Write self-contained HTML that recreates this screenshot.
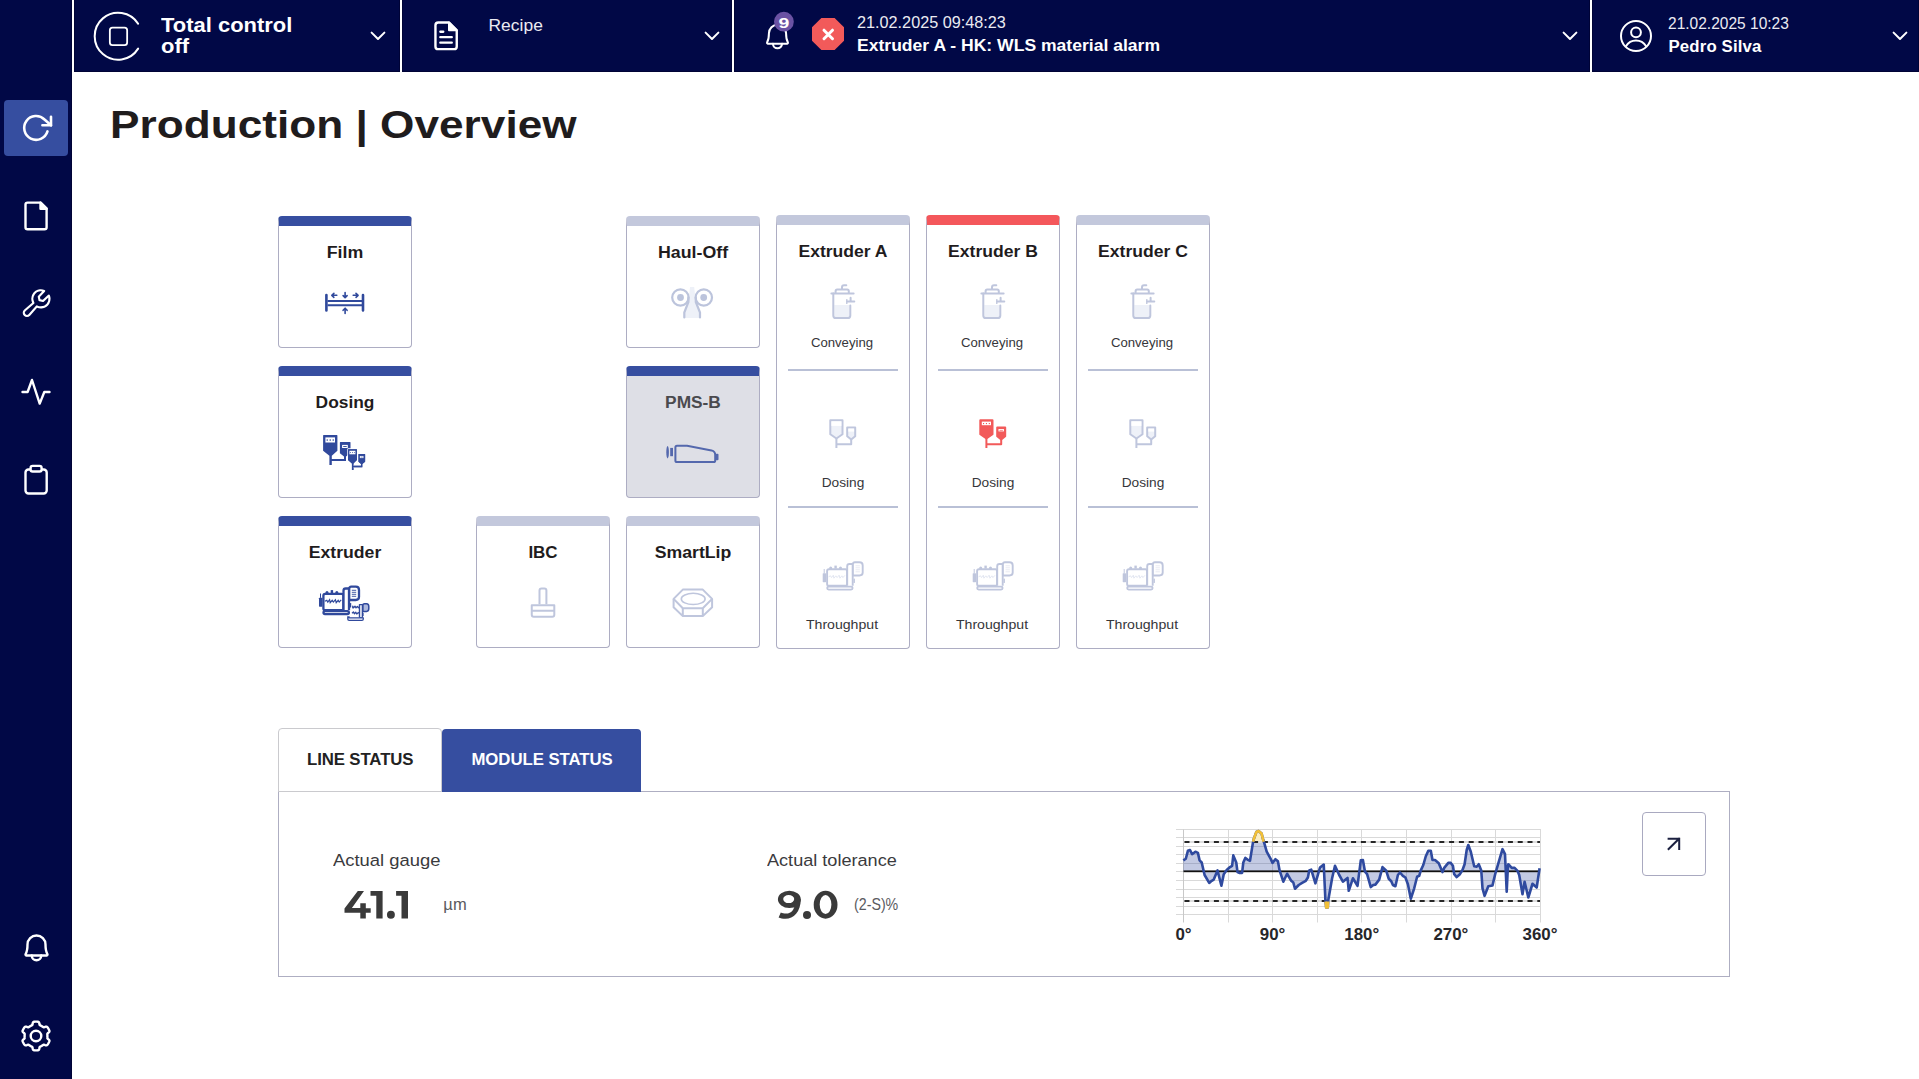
<!DOCTYPE html>
<html><head><meta charset="utf-8"><title>Production | Overview</title>
<style>
html,body{margin:0;padding:0;}
body{width:1919px;height:1079px;position:relative;overflow:hidden;background:#fff;font-family:"Liberation Sans", sans-serif;}
.t{position:absolute;white-space:nowrap;}
</style></head><body>
<div style="position:absolute;left:0px;top:0px;width:72px;height:1079px;background:#010846;box-shadow:inset -1px 0 0 #000336;"></div>
<div style="position:absolute;left:74px;top:0px;width:326px;height:72px;background:#010846;box-shadow:inset 1px -1px 0 #000336, inset -1px 0 0 #000336;"></div>
<div style="position:absolute;left:402px;top:0px;width:330px;height:72px;background:#010846;box-shadow:inset 1px -1px 0 #000336, inset -1px 0 0 #000336;"></div>
<div style="position:absolute;left:734px;top:0px;width:856px;height:72px;background:#010846;box-shadow:inset 1px -1px 0 #000336, inset -1px 0 0 #000336;"></div>
<div style="position:absolute;left:1592px;top:0px;width:327px;height:72px;background:#010846;box-shadow:inset 1px -1px 0 #000336, inset -1px 0 0 #000336;"></div>
<div style="position:absolute;left:4px;top:100px;width:64px;height:56px;background:#364ea0;border-radius:4px;"></div>
<svg style="position:absolute;left:0;top:0" width="72" height="1079" fill="none" stroke="#fff" stroke-width="2.4" stroke-linecap="round" stroke-linejoin="round"><path d="M47.48,131.38 A11.9,11.9 0 1 1 44.51,119.49 L51,125.3" stroke-width="2.6"/><polyline points="42.4,125.3 51,125.3 51,116.8" stroke-width="2.6"/><path d="M28.2,202.6 H40.5 L46.6,208.7 V227.2 Q46.6,229.3 44.5,229.3 H27.6 Q25.5,229.3 25.5,227.2 V204.7 Q25.5,202.6 27.6,202.6 Z"/><path d="M40.5,202.6 V208.7 H46.6 Z" fill="#fff"/><path fill="#fff" stroke="none" transform="translate(19.5,286) scale(0.1339)" d="M226.76,69a8,8,0,0,0-12.84-2.88l-40.3,37.19-17.23-3.7-3.7-17.23,37.19-40.3A8,8,0,0,0,187,29.24,72,72,0,0,0,88,96,72.34,72.34,0,0,0,94,124.94L33.79,177c-.15.12-.29.26-.43.39a32,32,0,0,0,45.26,45.26c.13-.13.27-.28.39-.42L131.06,162A72,72,0,0,0,232,96,71.56,71.56,0,0,0,226.76,69ZM160,152a56.14,56.14,0,0,1-27.070-7,8,8,0,0,0-9.92,1.77L67.11,211.51a16,16,0,0,1-22.62-22.620L109.18,133a8,8,0,0,0,1.77-9.93,56,56,0,0,1,58.360-82.31l-31.2,33.81a8,8,0,0,0-1.94,7.1L141.83,108a8,8,0,0,0,6.14,6.14l26.35,5.66a8,8,0,0,0,7.1-1.94l33.81-31.2A56.06,56.06,0,0,1,160,152Z"/><polyline points="22.5,392 27.6,392 32,380 39.7,403.6 44.3,392 49.5,392"/><rect x="25.5" y="469.5" width="21.2" height="24" rx="3"/><rect x="30.6" y="465.9" width="11" height="5.6" rx="2" fill="#010846"/><path d="M31.75,955.50 A4.75,4.75 0 0 0 41.25,955.50"/><path d="M27.50,944.50 A9.00,9.00 0 0 1 45.50,944.50 C45.50,948.98 46.54,952.58 47.36,954.00 Q47.88,955.00 46.50,955.50 L26.50,955.50 Q25.12,955.00 25.64,954.00 C26.46,952.58 27.50,948.98 27.50,944.50 Z"/><path d="M47.40,1036.00 L47.40,1036.20 L47.39,1036.40 L47.39,1036.60 L47.38,1036.80 L47.36,1036.99 L47.35,1037.19 L47.34,1037.39 L47.32,1037.59 L47.32,1037.79 L47.34,1038.00 L47.39,1038.21 L47.50,1038.45 L47.72,1038.70 L48.05,1039.00 L48.46,1039.34 L48.87,1039.69 L49.17,1040.03 L49.35,1040.34 L49.42,1040.62 L49.43,1040.89 L49.38,1041.14 L49.32,1041.38 L49.24,1041.62 L49.14,1041.85 L49.04,1042.08 L48.94,1042.31 L48.83,1042.54 L48.71,1042.76 L48.59,1042.98 L48.47,1043.20 L48.34,1043.42 L48.21,1043.63 L48.08,1043.84 L47.94,1044.05 L47.79,1044.26 L47.64,1044.46 L47.48,1044.65 L47.32,1044.84 L47.14,1045.02 L46.94,1045.18 L46.71,1045.31 L46.43,1045.39 L46.07,1045.40 L45.63,1045.30 L45.12,1045.12 L44.62,1044.93 L44.20,1044.79 L43.87,1044.74 L43.61,1044.76 L43.40,1044.82 L43.21,1044.91 L43.04,1045.01 L42.87,1045.12 L42.71,1045.23 L42.54,1045.34 L42.38,1045.45 L42.21,1045.56 L42.04,1045.67 L41.87,1045.77 L41.70,1045.87 L41.53,1045.97 L41.35,1046.07 L41.18,1046.16 L41.00,1046.25 L40.82,1046.34 L40.64,1046.43 L40.46,1046.51 L40.28,1046.60 L40.11,1046.70 L39.94,1046.82 L39.78,1046.97 L39.63,1047.19 L39.52,1047.50 L39.42,1047.93 L39.34,1048.46 L39.24,1048.99 L39.10,1049.42 L38.92,1049.73 L38.71,1049.94 L38.48,1050.07 L38.24,1050.16 L38.00,1050.22 L37.75,1050.27 L37.50,1050.31 L37.25,1050.34 L37.00,1050.36 L36.75,1050.38 L36.50,1050.39 L36.25,1050.40 L36.00,1050.40 L35.75,1050.40 L35.50,1050.39 L35.25,1050.38 L35.00,1050.36 L34.75,1050.34 L34.50,1050.31 L34.25,1050.27 L34.00,1050.22 L33.76,1050.16 L33.52,1050.07 L33.29,1049.94 L33.08,1049.73 L32.90,1049.42 L32.76,1048.99 L32.66,1048.46 L32.58,1047.93 L32.48,1047.50 L32.37,1047.19 L32.22,1046.97 L32.06,1046.82 L31.89,1046.70 L31.72,1046.60 L31.54,1046.51 L31.36,1046.43 L31.18,1046.34 L31.00,1046.25 L30.82,1046.16 L30.65,1046.07 L30.47,1045.97 L30.30,1045.87 L30.13,1045.77 L29.96,1045.67 L29.79,1045.56 L29.62,1045.45 L29.46,1045.34 L29.29,1045.23 L29.13,1045.12 L28.96,1045.01 L28.79,1044.91 L28.60,1044.82 L28.39,1044.76 L28.13,1044.74 L27.80,1044.79 L27.38,1044.93 L26.88,1045.12 L26.37,1045.30 L25.93,1045.40 L25.57,1045.39 L25.29,1045.31 L25.06,1045.18 L24.86,1045.02 L24.68,1044.84 L24.52,1044.65 L24.36,1044.46 L24.21,1044.26 L24.06,1044.05 L23.92,1043.84 L23.79,1043.63 L23.66,1043.42 L23.53,1043.20 L23.41,1042.98 L23.29,1042.76 L23.17,1042.54 L23.06,1042.31 L22.96,1042.08 L22.86,1041.85 L22.76,1041.62 L22.68,1041.38 L22.62,1041.14 L22.57,1040.89 L22.58,1040.62 L22.65,1040.34 L22.83,1040.03 L23.13,1039.69 L23.54,1039.34 L23.95,1039.00 L24.28,1038.70 L24.50,1038.45 L24.61,1038.21 L24.66,1038.00 L24.68,1037.79 L24.68,1037.59 L24.66,1037.39 L24.65,1037.19 L24.64,1036.99 L24.62,1036.80 L24.61,1036.60 L24.61,1036.40 L24.60,1036.20 L24.60,1036.00 L24.60,1035.80 L24.61,1035.60 L24.61,1035.40 L24.62,1035.20 L24.64,1035.01 L24.65,1034.81 L24.66,1034.61 L24.68,1034.41 L24.68,1034.21 L24.66,1034.00 L24.61,1033.79 L24.50,1033.55 L24.28,1033.30 L23.95,1033.00 L23.54,1032.66 L23.13,1032.31 L22.83,1031.97 L22.65,1031.66 L22.58,1031.38 L22.57,1031.11 L22.62,1030.86 L22.68,1030.62 L22.76,1030.38 L22.86,1030.15 L22.96,1029.92 L23.06,1029.69 L23.17,1029.46 L23.29,1029.24 L23.41,1029.02 L23.53,1028.80 L23.66,1028.58 L23.79,1028.37 L23.92,1028.16 L24.06,1027.95 L24.21,1027.74 L24.36,1027.54 L24.52,1027.35 L24.68,1027.16 L24.86,1026.98 L25.06,1026.82 L25.29,1026.69 L25.57,1026.61 L25.93,1026.60 L26.37,1026.70 L26.88,1026.88 L27.38,1027.07 L27.80,1027.21 L28.13,1027.26 L28.39,1027.24 L28.60,1027.18 L28.79,1027.09 L28.96,1026.99 L29.13,1026.88 L29.29,1026.77 L29.46,1026.66 L29.62,1026.55 L29.79,1026.44 L29.96,1026.33 L30.13,1026.23 L30.30,1026.13 L30.47,1026.03 L30.65,1025.93 L30.82,1025.84 L31.00,1025.75 L31.18,1025.66 L31.36,1025.57 L31.54,1025.49 L31.72,1025.40 L31.89,1025.30 L32.06,1025.18 L32.22,1025.03 L32.37,1024.81 L32.48,1024.50 L32.58,1024.07 L32.66,1023.54 L32.76,1023.01 L32.90,1022.58 L33.08,1022.27 L33.29,1022.06 L33.52,1021.93 L33.76,1021.84 L34.00,1021.78 L34.25,1021.73 L34.50,1021.69 L34.75,1021.66 L35.00,1021.64 L35.25,1021.62 L35.50,1021.61 L35.75,1021.60 L36.00,1021.60 L36.25,1021.60 L36.50,1021.61 L36.75,1021.62 L37.00,1021.64 L37.25,1021.66 L37.50,1021.69 L37.75,1021.73 L38.00,1021.78 L38.24,1021.84 L38.48,1021.93 L38.71,1022.06 L38.92,1022.27 L39.10,1022.58 L39.24,1023.01 L39.34,1023.54 L39.42,1024.07 L39.52,1024.50 L39.63,1024.81 L39.78,1025.03 L39.94,1025.18 L40.11,1025.30 L40.28,1025.40 L40.46,1025.49 L40.64,1025.57 L40.82,1025.66 L41.00,1025.75 L41.18,1025.84 L41.35,1025.93 L41.53,1026.03 L41.70,1026.13 L41.87,1026.23 L42.04,1026.33 L42.21,1026.44 L42.38,1026.55 L42.54,1026.66 L42.71,1026.77 L42.87,1026.88 L43.04,1026.99 L43.21,1027.09 L43.40,1027.18 L43.61,1027.24 L43.87,1027.26 L44.20,1027.21 L44.62,1027.07 L45.12,1026.88 L45.63,1026.70 L46.07,1026.60 L46.43,1026.61 L46.71,1026.69 L46.94,1026.82 L47.14,1026.98 L47.32,1027.16 L47.48,1027.35 L47.64,1027.54 L47.79,1027.74 L47.94,1027.95 L48.08,1028.16 L48.21,1028.37 L48.34,1028.58 L48.47,1028.80 L48.59,1029.02 L48.71,1029.24 L48.83,1029.46 L48.94,1029.69 L49.04,1029.92 L49.14,1030.15 L49.24,1030.38 L49.32,1030.62 L49.38,1030.86 L49.43,1031.11 L49.42,1031.38 L49.35,1031.66 L49.17,1031.97 L48.87,1032.31 L48.46,1032.66 L48.05,1033.00 L47.72,1033.30 L47.50,1033.55 L47.39,1033.79 L47.34,1034.00 L47.32,1034.21 L47.32,1034.41 L47.34,1034.61 L47.35,1034.81 L47.36,1035.01 L47.38,1035.20 L47.39,1035.40 L47.39,1035.60 L47.40,1035.80 Z"/><circle cx="36" cy="1036" r="5.3"/></svg>
<svg style="position:absolute;left:0;top:0" width="1919" height="72" fill="none" stroke="#fff" stroke-linecap="round" stroke-linejoin="round"><path d="M138.13,23.75 A23.5,23.5 0 1 0 138.13,48.65" stroke-width="2"/><rect x="109.85" y="27.6" width="17.3" height="17.6" rx="2.6" stroke-width="1.8"/><path d="M438.3,22.5 H449 L456.75,30.25 V46.4 Q456.75,49.15 454,49.15 H438.2 Q435.45,49.15 435.45,46.4 V25.3 Q435.45,22.5 438.3,22.5 Z" stroke-width="2.4"/><path d="M449,22.5 V30.25 H456.75 Z" fill="#fff" stroke-width="2"/><path d="M440.3,31.75 H443.3 M440.3,37.2 H451.8 M440.3,42.7 H451.8" stroke-width="2.3"/><polyline points="371.6,32.6 378,39 384.4,32.6" stroke-width="2"/><polyline points="705.6,32.6 712,39 718.4,32.6" stroke-width="2"/><polyline points="1563.6,32.6 1570,39 1576.4,32.6" stroke-width="2"/><polyline points="1893.6,32.6 1900,39 1906.4,32.6" stroke-width="2"/><path stroke-width="2" d="M772.98,43.74 A4.52,4.52 0 0 0 782.02,43.74"/><path stroke-width="2" d="M768.93,33.27 A8.57,8.57 0 0 1 786.07,33.27 C786.07,37.53 787.06,40.96 787.84,42.31 Q788.33,43.26 787.02,43.74 L767.98,43.74 Q766.67,43.26 767.16,42.31 C767.94,40.96 768.93,37.53 768.93,33.27 Z"/><circle cx="1636" cy="36" r="15" stroke-width="2"/><circle cx="1636" cy="32.3" r="4.9" stroke-width="2"/><path d="M1625.9,46.2 A11.9,11.9 0 0 1 1646.1,46.2" stroke-width="2"/></svg>
<svg style="position:absolute;left:0;top:0" width="1919" height="72"><circle cx="783.9" cy="21.7" r="9.9" fill="#6a52a3"/><polygon points="821.37,18.00 834.63,18.00 844.00,27.37 844.00,40.63 834.63,50.00 821.37,50.00 812.00,40.63 812.00,27.37" fill="#f25a5a"/><path d="M824,30.2 L832.5,38.7 M832.5,30.2 L824,38.7" stroke="#fff" stroke-width="3" stroke-linecap="round"/></svg>
<div class="t" style="left:161.25px;top:14.54px;font-size:20.5px;line-height:20.5px;font-weight:700;color:#fff;letter-spacing:0px;transform:scaleX(1.0712);transform-origin:0 0;">Total control</div>
<div class="t" style="left:161.25px;top:36.39px;font-size:20.5px;line-height:20.5px;font-weight:700;color:#fff;letter-spacing:0px;transform:scaleX(1.0712);transform-origin:0 0;">off</div>
<div class="t" style="left:488.50px;top:17.27px;font-size:17.4px;line-height:17.4px;font-weight:400;color:#ebebf2;letter-spacing:0.05px;">Recipe</div>
<div class="t" style="left:283.90px;width:1000px;text-align:center;top:14.90px;font-size:15px;line-height:15px;font-weight:700;color:#fff;letter-spacing:0px;transform:scaleX(1.3);transform-origin:50% 0;">9</div>
<div class="t" style="left:857.10px;top:13.73px;font-size:16.5px;line-height:16.5px;font-weight:400;color:#ebebf2;letter-spacing:0px;transform:scaleX(0.9834);transform-origin:0 0;">21.02.2025 09:48:23</div>
<div class="t" style="left:856.50px;top:36.83px;font-size:16.5px;line-height:16.5px;font-weight:700;color:#fff;letter-spacing:0px;transform:scaleX(1.0637);transform-origin:0 0;">Extruder A - HK: WLS material alarm</div>
<div class="t" style="left:1668.00px;top:14.83px;font-size:16.5px;line-height:16.5px;font-weight:400;color:#ebebf2;letter-spacing:0px;transform:scaleX(0.9409);transform-origin:0 0;">21.02.2025 10:23</div>
<div class="t" style="left:1668.50px;top:38.78px;font-size:16.8px;line-height:16.8px;font-weight:700;color:#fff;letter-spacing:0.15px;">Pedro Silva</div>
<div class="t" style="left:110.30px;top:105.22px;font-size:39.6px;line-height:39.6px;font-weight:700;color:#1f1c1d;letter-spacing:0px;transform:scaleX(1.1164);transform-origin:0 0;">Production | Overview</div>
<div style="position:absolute;left:278px;top:216px;width:132px;height:121px;border:1px solid #adadc3;border-top:10px solid #364ea0;border-radius:4px;background:#fff;"></div>
<div style="position:absolute;left:278px;top:366px;width:132px;height:121px;border:1px solid #adadc3;border-top:10px solid #364ea0;border-radius:4px;background:#fff;"></div>
<div style="position:absolute;left:278px;top:516px;width:132px;height:121px;border:1px solid #adadc3;border-top:10px solid #364ea0;border-radius:4px;background:#fff;"></div>
<div style="position:absolute;left:476px;top:516px;width:132px;height:121px;border:1px solid #adadc3;border-top:10px solid #c3c8dc;border-radius:4px;background:#fff;"></div>
<div style="position:absolute;left:626px;top:216px;width:132px;height:121px;border:1px solid #adadc3;border-top:10px solid #c3c8dc;border-radius:4px;background:#fff;"></div>
<div style="position:absolute;left:626px;top:366px;width:132px;height:121px;border:1px solid #adadc3;border-top:10px solid #364ea0;border-radius:4px;background:#dedfe6;"></div>
<div style="position:absolute;left:626px;top:516px;width:132px;height:121px;border:1px solid #adadc3;border-top:10px solid #c3c8dc;border-radius:4px;background:#fff;"></div>
<div style="position:absolute;left:776px;top:215px;width:132px;height:423px;border:1px solid #adadc3;border-top:10px solid #c3c8dc;border-radius:4px;background:#fff;"></div>
<div style="position:absolute;left:788px;top:369px;width:110px;height:2px;background:#b9c0d6;"></div>
<div style="position:absolute;left:788px;top:506px;width:110px;height:2px;background:#b9c0d6;"></div>
<div style="position:absolute;left:926px;top:215px;width:132px;height:423px;border:1px solid #adadc3;border-top:10px solid #f4575b;border-radius:4px;background:#fff;"></div>
<div style="position:absolute;left:938px;top:369px;width:110px;height:2px;background:#b9c0d6;"></div>
<div style="position:absolute;left:938px;top:506px;width:110px;height:2px;background:#b9c0d6;"></div>
<div style="position:absolute;left:1076px;top:215px;width:132px;height:423px;border:1px solid #adadc3;border-top:10px solid #c3c8dc;border-radius:4px;background:#fff;"></div>
<div style="position:absolute;left:1088px;top:369px;width:110px;height:2px;background:#b9c0d6;"></div>
<div style="position:absolute;left:1088px;top:506px;width:110px;height:2px;background:#b9c0d6;"></div>
<div class="t" style="left:-155.40px;width:1000px;text-align:center;top:244.58px;font-size:16.8px;line-height:16.8px;font-weight:700;color:#1f1c1d;letter-spacing:0px;transform:scaleX(1.0591);transform-origin:50% 0;">Film</div>
<div class="t" style="left:-155.40px;width:1000px;text-align:center;top:394.58px;font-size:16.8px;line-height:16.8px;font-weight:700;color:#1f1c1d;letter-spacing:0px;transform:scaleX(1.0339);transform-origin:50% 0;">Dosing</div>
<div class="t" style="left:-155.40px;width:1000px;text-align:center;top:544.58px;font-size:16.8px;line-height:16.8px;font-weight:700;color:#1f1c1d;letter-spacing:0px;transform:scaleX(1.0529);transform-origin:50% 0;">Extruder</div>
<div class="t" style="left:42.60px;width:1000px;text-align:center;top:544.58px;font-size:16.8px;line-height:16.8px;font-weight:700;color:#1f1c1d;letter-spacing:0px;transform:scaleX(1.0115);transform-origin:50% 0;">IBC</div>
<div class="t" style="left:192.60px;width:1000px;text-align:center;top:244.58px;font-size:16.8px;line-height:16.8px;font-weight:700;color:#1f1c1d;letter-spacing:0px;transform:scaleX(1.0595);transform-origin:50% 0;">Haul-Off</div>
<div class="t" style="left:192.60px;width:1000px;text-align:center;top:394.58px;font-size:16.8px;line-height:16.8px;font-weight:700;color:#4a4a4e;letter-spacing:0px;transform:scaleX(1.0311);transform-origin:50% 0;">PMS-B</div>
<div class="t" style="left:192.60px;width:1000px;text-align:center;top:544.58px;font-size:16.8px;line-height:16.8px;font-weight:700;color:#1f1c1d;letter-spacing:0px;transform:scaleX(1.0541);transform-origin:50% 0;">SmartLip</div>
<div class="t" style="left:343.00px;width:1000px;text-align:center;top:243.58px;font-size:16.8px;line-height:16.8px;font-weight:700;color:#1f1c1d;letter-spacing:0px;transform:scaleX(1.0464);transform-origin:50% 0;">Extruder A</div>
<div class="t" style="left:342.20px;width:1000px;text-align:center;top:335.99px;font-size:13px;line-height:13px;font-weight:400;color:#36363a;letter-spacing:0px;transform:scaleX(1.0131);transform-origin:50% 0;">Conveying</div>
<div class="t" style="left:342.70px;width:1000px;text-align:center;top:475.79px;font-size:13px;line-height:13px;font-weight:400;color:#36363a;letter-spacing:0px;transform:scaleX(1.0526);transform-origin:50% 0;">Dosing</div>
<div class="t" style="left:342.40px;width:1000px;text-align:center;top:617.79px;font-size:13px;line-height:13px;font-weight:400;color:#36363a;letter-spacing:0px;transform:scaleX(1.0855);transform-origin:50% 0;">Throughput</div>
<div class="t" style="left:493.00px;width:1000px;text-align:center;top:243.58px;font-size:16.8px;line-height:16.8px;font-weight:700;color:#1f1c1d;letter-spacing:0px;transform:scaleX(1.0464);transform-origin:50% 0;">Extruder B</div>
<div class="t" style="left:492.20px;width:1000px;text-align:center;top:335.99px;font-size:13px;line-height:13px;font-weight:400;color:#36363a;letter-spacing:0px;transform:scaleX(1.0131);transform-origin:50% 0;">Conveying</div>
<div class="t" style="left:492.70px;width:1000px;text-align:center;top:475.79px;font-size:13px;line-height:13px;font-weight:400;color:#36363a;letter-spacing:0px;transform:scaleX(1.0526);transform-origin:50% 0;">Dosing</div>
<div class="t" style="left:492.40px;width:1000px;text-align:center;top:617.79px;font-size:13px;line-height:13px;font-weight:400;color:#36363a;letter-spacing:0px;transform:scaleX(1.0855);transform-origin:50% 0;">Throughput</div>
<div class="t" style="left:643.00px;width:1000px;text-align:center;top:243.58px;font-size:16.8px;line-height:16.8px;font-weight:700;color:#1f1c1d;letter-spacing:0px;transform:scaleX(1.0464);transform-origin:50% 0;">Extruder C</div>
<div class="t" style="left:642.20px;width:1000px;text-align:center;top:335.99px;font-size:13px;line-height:13px;font-weight:400;color:#36363a;letter-spacing:0px;transform:scaleX(1.0131);transform-origin:50% 0;">Conveying</div>
<div class="t" style="left:642.70px;width:1000px;text-align:center;top:475.79px;font-size:13px;line-height:13px;font-weight:400;color:#36363a;letter-spacing:0px;transform:scaleX(1.0526);transform-origin:50% 0;">Dosing</div>
<div class="t" style="left:642.40px;width:1000px;text-align:center;top:617.79px;font-size:13px;line-height:13px;font-weight:400;color:#36363a;letter-spacing:0px;transform:scaleX(1.0855);transform-origin:50% 0;">Throughput</div>
<svg style="position:absolute;left:0;top:0" width="1300" height="700"><g stroke="#30499c" fill="none" stroke-linecap="round" stroke-linejoin="round"><path d="M326.4,295 V310.5 M363,295 V310.5" stroke-width="2.6"/><path d="M327.5,300.9 H362 M327.5,305.3 H362" stroke-width="2" stroke-linecap="butt"/><path d="M332,295.3 H336.8 M333.9,293.3 L331.8,295.3 L333.9,297.3" stroke-width="1.6"/><path d="M345.1,292.6 V297.4 M343.1,295.6 L345.1,297.7 L347.1,295.6" stroke-width="1.6"/><path d="M353.2,295.3 H358 M356,293.3 L358.1,295.3 L356,297.3" stroke-width="1.6"/><path d="M345.1,308.4 V313.4 M343.1,310.3 L345.1,308.2 L347.1,310.3" stroke-width="1.6"/></g><g fill="#30499c"><path d="M323.6,435.1 H336.9 Q337.4,435.1 337.4,435.6 V450.7 L331.8,455.8 V465.1 H329.4 V455.8 L323.1,450.7 V435.6 Q323.1,435.1 323.6,435.1 Z"/><path d="M340.4,442.1 H350 Q350.5,442.1 350.5,442.6 V453.3 L346,456.6 V461.1 H331 V459 H344 V456.6 L339.9,453.3 V442.6 Q339.9,442.1 340.4,442.1 Z"/><rect x="325.4" y="437.4" width="9.6" height="5.1" fill="#fff"/><rect x="342.1" y="444.9" width="5.7" height="3.1" fill="#fff"/><rect x="326.6" y="439.4" width="1.3" height="1.3" fill="#30499c"/><rect x="329.6" y="439.4" width="1.3" height="1.3" fill="#30499c"/><rect x="332.6" y="439.4" width="1.3" height="1.3" fill="#30499c"/><rect x="343.2" y="446" width="3.5" height="0.9" fill="#30499c"/></g><g transform="translate(146.06,148.98) scale(0.625,0.69)"><g stroke="#fff" stroke-width="2.4" paint-order="stroke"><g fill="#30499c"><path d="M323.6,435.1 H336.9 Q337.4,435.1 337.4,435.6 V450.7 L331.8,455.8 V465.1 H329.4 V455.8 L323.1,450.7 V435.6 Q323.1,435.1 323.6,435.1 Z"/><path d="M340.4,442.1 H350 Q350.5,442.1 350.5,442.6 V453.3 L346,456.6 V461.1 H331 V459 H344 V456.6 L339.9,453.3 V442.6 Q339.9,442.1 340.4,442.1 Z"/><rect x="325.4" y="437.4" width="9.6" height="5.1" fill="#fff"/><rect x="342.1" y="444.9" width="5.7" height="3.1" fill="#fff"/><rect x="326.6" y="439.4" width="1.3" height="1.3" fill="#30499c"/><rect x="329.6" y="439.4" width="1.3" height="1.3" fill="#30499c"/><rect x="332.6" y="439.4" width="1.3" height="1.3" fill="#30499c"/><rect x="343.2" y="446" width="3.5" height="0.9" fill="#30499c"/></g></g></g><g transform="translate(146.06,148.98) scale(0.625,0.69)"><g fill="#30499c"><path d="M323.6,435.1 H336.9 Q337.4,435.1 337.4,435.6 V450.7 L331.8,455.8 V465.1 H329.4 V455.8 L323.1,450.7 V435.6 Q323.1,435.1 323.6,435.1 Z"/><path d="M340.4,442.1 H350 Q350.5,442.1 350.5,442.6 V453.3 L346,456.6 V461.1 H331 V459 H344 V456.6 L339.9,453.3 V442.6 Q339.9,442.1 340.4,442.1 Z"/><rect x="325.4" y="437.4" width="9.6" height="5.1" fill="#fff"/><rect x="342.1" y="444.9" width="5.7" height="3.1" fill="#fff"/><rect x="326.6" y="439.4" width="1.3" height="1.3" fill="#30499c"/><rect x="329.6" y="439.4" width="1.3" height="1.3" fill="#30499c"/><rect x="332.6" y="439.4" width="1.3" height="1.3" fill="#30499c"/><rect x="343.2" y="446" width="3.5" height="0.9" fill="#30499c"/></g></g><g transform="translate(318.8,585.5)"><g stroke="#30499c" stroke-width="2.3" fill="#fff" stroke-linejoin="round"><rect x="4.6" y="8.3" width="20" height="16.4" rx="1.8"/><path d="M24.7,24.8 V5.2 Q24.7,3 26.9,3 H30.2 V24.8"/><path d="M30.4,3.2 Q30.4,1.2 32.4,1.2 H37 Q40.2,1.2 40.2,4.4 V11.6 Q40.2,14.5 37,14.5 H30.4 Z"/><rect x="4.7" y="25.6" width="25.4" height="3" rx="1.5"/></g><g fill="#30499c"><rect x="0.2" y="12.2" width="3.4" height="9" rx="0.6"/><rect x="1.2" y="8" width="1" height="4.4"/><circle cx="8.2" cy="7" r="1.5"/><rect x="11.9" y="4.6" width="2.4" height="3"/><circle cx="18" cy="7" r="1.5"/><rect x="31" y="17.5" width="1.4" height="4.6" rx="0.6"/></g><path d="M33,4.8 H37.4 M33,6.8 H37.4 M33,8.8 H37.4 M33,10.8 H37.4" stroke="#30499c" stroke-width="0.9" opacity="1"/><path d="M6,15.8 L8,14.8 L9,16.6 L10.8,14.2 L11.4,17.2 L13.4,14.8 L14.6,16.6 L16.6,14.2 L17.4,17.2 L19.4,14.8 L20.4,16.6 L22.4,14.4" stroke="#30499c" stroke-width="1.2" fill="none"/></g><g stroke="#30499c" fill="#fff" stroke-linejoin="round"><rect x="359.5" y="604.6" width="2.9" height="13.2" stroke-width="1.4"/><path d="M362.9,605.2 Q362.9,603.7 364.4,603.7 H366.6 Q368.8,603.7 368.8,606.6 V608.6 Q368.8,611.4 366.6,611.4 H362.9 Z" stroke-width="1.5" fill="#aeb9dd"/><path d="M347.8,616.2 V619 Q347.8,620.3 349.1,620.3 H362 Q363.3,620.3 363.3,619 V617.8 H349 V616.2" stroke-width="1.3"/></g><g stroke="#30499c" fill="none" stroke-width="1.3" stroke-linejoin="round"><path d="M352.6,606.4 L353.5,607.8 L355,606.2 L356,607.9 L357.4,606.4 L358.4,607.8 L359.3,607"/><path d="M352,613.2 L353.4,611.9 L354.4,613.8 L355.8,612.2 L356.8,614 L358.2,612.6 L359.3,613.2"/></g><rect x="352.2" y="605.6" width="1" height="2.8" fill="#30499c"/><rect x="362.3" y="613" width="1.3" height="3" rx="0.5" fill="#30499c"/><g stroke="#bfc6dd" stroke-width="2" fill="none" stroke-linejoin="round"><path d="M539.5,604.2 V590.5 Q539.5,588.5 541.5,588.5 H544.4 Q546.4,588.5 546.4,590.5 V604.2"/><path d="M531.75,605.2 H554.3 V614.7 Q554.3,616.7 552.3,616.7 H533.75 Q531.75,616.7 531.75,614.7 Z M531.75,610.8 H554.3"/></g><path d="M690,287 H694.2 L695.8,302 L700,312.5 V318 H684.3 V312.5 L688.4,302 Z" fill="#eef1f8"/><g stroke="#bcc4dc" stroke-width="2.2" fill="none"><circle cx="680.4" cy="297.5" r="8.2"/><circle cx="703.8" cy="297.5" r="8.2"/><path d="M688.4,297.5 V302 L684.3,312.5 V317.5 M695.8,297.5 V302 L700,312.5 V317.5" stroke-linecap="round"/></g><circle cx="680.5" cy="297.5" r="3.4" fill="#bcc4dc"/><circle cx="703.7" cy="297.5" r="3.4" fill="#bcc4dc"/><g transform="translate(0,0.7)"><path d="M675.4,446.6 Q675.4,445 677,445 H687.1 L711.5,449.7 Q715.2,450.6 715.2,454.2 V459.7 Q715.2,461.4 713.5,461.4 H677 Q675.4,461.4 675.4,459.7 Z" stroke="#5468ad" stroke-width="2" fill="none"/><rect x="670.2" y="447.2" width="2.8" height="8.3" fill="#5468ad"/><ellipse cx="667.6" cy="451.5" rx="1.3" ry="6.2" fill="#5468ad"/><rect x="715.5" y="453" width="3" height="6.5" rx="1" fill="#5468ad"/></g><g stroke="#bfc6dd" stroke-width="2" fill="none" stroke-linejoin="round"><path d="M682.8,589.6 H702.8 L712.1,598.9 L702.8,608.3 H682.8 L673.6,598.9 Z"/><path d="M673.6,598.9 V607.2 L682.8,616.1 H702.8 L712.1,607.2 V598.9 M682.8,608.3 V616.1 M702.8,608.3 V616.1"/><ellipse cx="693.2" cy="598.9" rx="11.9" ry="5.6" stroke-width="1.6"/></g><g transform="translate(0,0)"><rect x="834.3" y="305" width="15" height="12" fill="#eef1f8"/><g stroke="#bfc6dd" stroke-width="2" fill="none" stroke-linecap="round" stroke-linejoin="round"><path d="M842,289 V287.2 Q842,285.2 844,285.2 H846.3"/><path d="M835.6,292.8 V291.2 Q835.6,289.6 837.2,289.6 H847.2 Q848.8,289.6 848.8,291.2 V292.8"/><path d="M831.4,293.4 H853.6"/><path d="M833.3,293.4 V315.4 Q833.3,318 835.9,318 H847.7 Q850.3,318 850.3,315.4 V305.6"/><path d="M847.4,301.5 H854.3 M850.6,297.8 V301.5"/><path d="M846.8,299.6 V303.4" stroke-width="1.4"/></g><g fill="#eef1f8" stroke="#bfc6dd" stroke-width="2" stroke-linejoin="round"><path d="M830.3,420.2 H842.5 V434.3 L836.4,438.5 L830.3,434.3 Z"/><path d="M847.2,427.5 H855.2 V436.3 L851.2,439.5 L847.2,436.3 Z"/><path d="M836.4,438.5 V448 M851.2,439.5 V444.3 H836.4" fill="none"/></g><rect x="831.4" y="421.3" width="10" height="4.6" fill="#fff"/><rect x="848.3" y="428.6" width="5.8" height="3" fill="#fff"/><g transform="translate(822.5,561)"><g stroke="#bfc6dd" stroke-width="1.9" fill="#fff" stroke-linejoin="round"><rect x="4.6" y="8.3" width="20" height="16.4" rx="1.8"/><path d="M24.7,24.8 V5.2 Q24.7,3 26.9,3 H30.2 V24.8"/><path d="M30.4,3.2 Q30.4,1.2 32.4,1.2 H37 Q40.2,1.2 40.2,4.4 V11.6 Q40.2,14.5 37,14.5 H30.4 Z"/><rect x="4.7" y="25.6" width="25.4" height="3" rx="1.5"/></g><g fill="#bfc6dd"><rect x="0.2" y="12.2" width="3.4" height="9" rx="0.6"/><rect x="1.2" y="8" width="1" height="4.4"/><circle cx="8.2" cy="7" r="1.5"/><rect x="11.9" y="4.6" width="2.4" height="3"/><circle cx="18" cy="7" r="1.5"/><rect x="31" y="17.5" width="1.4" height="4.6" rx="0.6"/></g><path d="M33,4.8 H37.4 M33,6.8 H37.4 M33,8.8 H37.4 M33,10.8 H37.4" stroke="#e6e9f2" stroke-width="0.9" opacity="1"/><path d="M6,15.8 L8,14.8 L9,16.6 L10.8,14.2 L11.4,17.2 L13.4,14.8 L14.6,16.6 L16.6,14.2 L17.4,17.2 L19.4,14.8 L20.4,16.6 L22.4,14.4" stroke="#dfe3ef" stroke-width="0.9" fill="none"/></g></g><g transform="translate(150,0)"><rect x="834.3" y="305" width="15" height="12" fill="#eef1f8"/><g stroke="#bfc6dd" stroke-width="2" fill="none" stroke-linecap="round" stroke-linejoin="round"><path d="M842,289 V287.2 Q842,285.2 844,285.2 H846.3"/><path d="M835.6,292.8 V291.2 Q835.6,289.6 837.2,289.6 H847.2 Q848.8,289.6 848.8,291.2 V292.8"/><path d="M831.4,293.4 H853.6"/><path d="M833.3,293.4 V315.4 Q833.3,318 835.9,318 H847.7 Q850.3,318 850.3,315.4 V305.6"/><path d="M847.4,301.5 H854.3 M850.6,297.8 V301.5"/><path d="M846.8,299.6 V303.4" stroke-width="1.4"/></g><g fill="#f25a5a" stroke="#f25a5a" stroke-width="2" stroke-linejoin="round"><path d="M830.3,420.2 H842.5 V434.3 L836.4,438.5 L830.3,434.3 Z"/><path d="M847.2,427.5 H855.2 V436.3 L851.2,439.5 L847.2,436.3 Z"/><path d="M836.4,438.5 V448 M851.2,439.5 V444.3 H836.4" fill="none"/></g><rect x="831.8" y="421.6" width="9.2" height="3.6" fill="#fff"/><rect x="848.5" y="429" width="5.4" height="2.4" fill="#fff"/><g fill="#f25a5a"><rect x="833" y="423" width="1.1" height="1.1"/><rect x="835.9" y="423" width="1.1" height="1.1"/><rect x="838.8" y="423" width="1.1" height="1.1"/><rect x="849.5" y="429.9" width="3.4" height="0.7"/></g><g transform="translate(822.5,561)"><g stroke="#bfc6dd" stroke-width="1.9" fill="#fff" stroke-linejoin="round"><rect x="4.6" y="8.3" width="20" height="16.4" rx="1.8"/><path d="M24.7,24.8 V5.2 Q24.7,3 26.9,3 H30.2 V24.8"/><path d="M30.4,3.2 Q30.4,1.2 32.4,1.2 H37 Q40.2,1.2 40.2,4.4 V11.6 Q40.2,14.5 37,14.5 H30.4 Z"/><rect x="4.7" y="25.6" width="25.4" height="3" rx="1.5"/></g><g fill="#bfc6dd"><rect x="0.2" y="12.2" width="3.4" height="9" rx="0.6"/><rect x="1.2" y="8" width="1" height="4.4"/><circle cx="8.2" cy="7" r="1.5"/><rect x="11.9" y="4.6" width="2.4" height="3"/><circle cx="18" cy="7" r="1.5"/><rect x="31" y="17.5" width="1.4" height="4.6" rx="0.6"/></g><path d="M33,4.8 H37.4 M33,6.8 H37.4 M33,8.8 H37.4 M33,10.8 H37.4" stroke="#e6e9f2" stroke-width="0.9" opacity="1"/><path d="M6,15.8 L8,14.8 L9,16.6 L10.8,14.2 L11.4,17.2 L13.4,14.8 L14.6,16.6 L16.6,14.2 L17.4,17.2 L19.4,14.8 L20.4,16.6 L22.4,14.4" stroke="#dfe3ef" stroke-width="0.9" fill="none"/></g></g><g transform="translate(300,0)"><rect x="834.3" y="305" width="15" height="12" fill="#eef1f8"/><g stroke="#bfc6dd" stroke-width="2" fill="none" stroke-linecap="round" stroke-linejoin="round"><path d="M842,289 V287.2 Q842,285.2 844,285.2 H846.3"/><path d="M835.6,292.8 V291.2 Q835.6,289.6 837.2,289.6 H847.2 Q848.8,289.6 848.8,291.2 V292.8"/><path d="M831.4,293.4 H853.6"/><path d="M833.3,293.4 V315.4 Q833.3,318 835.9,318 H847.7 Q850.3,318 850.3,315.4 V305.6"/><path d="M847.4,301.5 H854.3 M850.6,297.8 V301.5"/><path d="M846.8,299.6 V303.4" stroke-width="1.4"/></g><g fill="#eef1f8" stroke="#bfc6dd" stroke-width="2" stroke-linejoin="round"><path d="M830.3,420.2 H842.5 V434.3 L836.4,438.5 L830.3,434.3 Z"/><path d="M847.2,427.5 H855.2 V436.3 L851.2,439.5 L847.2,436.3 Z"/><path d="M836.4,438.5 V448 M851.2,439.5 V444.3 H836.4" fill="none"/></g><rect x="831.4" y="421.3" width="10" height="4.6" fill="#fff"/><rect x="848.3" y="428.6" width="5.8" height="3" fill="#fff"/><g transform="translate(822.5,561)"><g stroke="#bfc6dd" stroke-width="1.9" fill="#fff" stroke-linejoin="round"><rect x="4.6" y="8.3" width="20" height="16.4" rx="1.8"/><path d="M24.7,24.8 V5.2 Q24.7,3 26.9,3 H30.2 V24.8"/><path d="M30.4,3.2 Q30.4,1.2 32.4,1.2 H37 Q40.2,1.2 40.2,4.4 V11.6 Q40.2,14.5 37,14.5 H30.4 Z"/><rect x="4.7" y="25.6" width="25.4" height="3" rx="1.5"/></g><g fill="#bfc6dd"><rect x="0.2" y="12.2" width="3.4" height="9" rx="0.6"/><rect x="1.2" y="8" width="1" height="4.4"/><circle cx="8.2" cy="7" r="1.5"/><rect x="11.9" y="4.6" width="2.4" height="3"/><circle cx="18" cy="7" r="1.5"/><rect x="31" y="17.5" width="1.4" height="4.6" rx="0.6"/></g><path d="M33,4.8 H37.4 M33,6.8 H37.4 M33,8.8 H37.4 M33,10.8 H37.4" stroke="#e6e9f2" stroke-width="0.9" opacity="1"/><path d="M6,15.8 L8,14.8 L9,16.6 L10.8,14.2 L11.4,17.2 L13.4,14.8 L14.6,16.6 L16.6,14.2 L17.4,17.2 L19.4,14.8 L20.4,16.6 L22.4,14.4" stroke="#dfe3ef" stroke-width="0.9" fill="none"/></g></g></svg>
<div style="position:absolute;left:278px;top:791px;width:1450px;height:184px;border:1px solid #aeaec2;background:#fff;"></div>
<div style="position:absolute;left:278px;top:728px;width:162px;height:62px;border:1px solid #cacace;border-radius:4px 4px 0 0;background:#fff;"></div>
<div style="position:absolute;left:442px;top:729px;width:199px;height:63px;background:#364ea0;border-radius:4px 4px 0 0;"></div>
<div class="t" style="left:-139.80px;width:1000px;text-align:center;top:752.08px;font-size:16.8px;line-height:16.8px;font-weight:700;color:#222;letter-spacing:-0.1px;">LINE STATUS</div>
<div class="t" style="left:42.10px;width:1000px;text-align:center;top:751.68px;font-size:16.8px;line-height:16.8px;font-weight:700;color:#fff;letter-spacing:-0.05px;">MODULE STATUS</div>
<div style="position:absolute;left:1642px;top:812px;width:62px;height:62px;border:1px solid #a9a9c0;border-radius:4px;background:#fff;"></div>
<svg style="position:absolute;left:1642px;top:812px" width="64" height="64" fill="none" stroke="#1c2140" stroke-width="2" stroke-linecap="square"><path d="M26.6,37 L37,26.7 M26.6,26.7 H37.2 V37"/></svg>
<div class="t" style="left:333.40px;top:851.94px;font-size:17.2px;line-height:17.2px;font-weight:400;color:#3a3a3d;letter-spacing:0px;transform:scaleX(1.0714);transform-origin:0 0;">Actual gauge</div>
<div class="t" style="left:443.20px;top:896.33px;font-size:16.5px;line-height:16.5px;font-weight:400;color:#5a5a5e;letter-spacing:0.2px;">µm</div>
<div class="t" style="left:767.30px;top:851.94px;font-size:17.2px;line-height:17.2px;font-weight:400;color:#3a3a3d;letter-spacing:0px;transform:scaleX(1.0531);transform-origin:0 0;">Actual tolerance</div>
<div class="t" style="left:853.80px;top:896.33px;font-size:16.5px;line-height:16.5px;font-weight:400;color:#5a5a5e;letter-spacing:0px;transform:scaleX(0.8625);transform-origin:0 0;">(2-S)%</div>
<svg style="position:absolute;left:0;top:0" width="900" height="930"><g fill="#3a3a3a"><polygon points="357.8,891.1 364.0,891.1 351.9,907.9 360.3,907.9 360.3,903.2 365.8,903.2 365.8,908.3 370.7,908.3 370.7,912.7 365.8,912.7 365.8,918.6 360.3,918.6 360.3,912.7 344.5,912.7 344.5,908.4"/><polygon points="370.5,891.1 382.6,891.1 382.6,918.6 376.3,918.6 376.3,895.7 370.5,895.7"/><circle cx="390.9" cy="914.8" r="3.95"/><polygon points="396.1,891.1 408,891.1 408,918.6 401.5,918.6 401.5,895.7 396.1,895.7"/><path fill-rule="evenodd" d="M777.9,899.3 A11.45,8.6 0 1 1 800.8,899.3 A11.45,8.6 0 1 1 777.9,899.3 Z M783.2,899.1 A5.5,4 0 1 0 794.2,899.1 A5.5,4 0 1 0 783.2,899.1 Z"/><path d="M800.8,899 C800.8,912 793.5,918.7 785.5,918.7 C782.5,918.7 780.5,918.2 778.6,917.4 L780.8,912.6 C782.4,913.3 784,913.6 786,913.6 C791.6,913.6 794.6,909.5 794.8,903 Z"/><circle cx="807" cy="915" r="4"/><path fill-rule="evenodd" d="M813.7,904.7 A11.9,14 0 1 1 837.5,904.7 A11.9,14 0 1 1 813.7,904.7 Z M819.7,904.5 A5.85,9.6 0 1 0 831.4,904.5 A5.85,9.6 0 1 0 819.7,904.5 Z"/></g></svg>
<svg style="position:absolute;left:0;top:0" width="1919" height="1079"><line x1="1176" y1="829.5" x2="1541" y2="829.5" stroke="#d9d9d9" stroke-width="1"/><line x1="1176" y1="837.5" x2="1541" y2="837.5" stroke="#d9d9d9" stroke-width="1"/><line x1="1176" y1="846.5" x2="1541" y2="846.5" stroke="#d9d9d9" stroke-width="1"/><line x1="1176" y1="854.5" x2="1541" y2="854.5" stroke="#d9d9d9" stroke-width="1"/><line x1="1176" y1="863.5" x2="1541" y2="863.5" stroke="#d9d9d9" stroke-width="1"/><line x1="1176" y1="871.5" x2="1541" y2="871.5" stroke="#d9d9d9" stroke-width="1"/><line x1="1176" y1="880.5" x2="1541" y2="880.5" stroke="#d9d9d9" stroke-width="1"/><line x1="1176" y1="889.5" x2="1541" y2="889.5" stroke="#d9d9d9" stroke-width="1"/><line x1="1176" y1="897.5" x2="1541" y2="897.5" stroke="#d9d9d9" stroke-width="1"/><line x1="1176" y1="906.5" x2="1541" y2="906.5" stroke="#d9d9d9" stroke-width="1"/><line x1="1176" y1="914.5" x2="1541" y2="914.5" stroke="#d9d9d9" stroke-width="1"/><line x1="1183.5" y1="829.5" x2="1183.5" y2="922.5" stroke="#c8c8c8" stroke-width="1"/><line x1="1228.5" y1="829.5" x2="1228.5" y2="922.5" stroke="#d9d9d9" stroke-width="1"/><line x1="1272.5" y1="829.5" x2="1272.5" y2="922.5" stroke="#d9d9d9" stroke-width="1"/><line x1="1317.5" y1="829.5" x2="1317.5" y2="922.5" stroke="#d9d9d9" stroke-width="1"/><line x1="1361.5" y1="829.5" x2="1361.5" y2="922.5" stroke="#d9d9d9" stroke-width="1"/><line x1="1406.5" y1="829.5" x2="1406.5" y2="922.5" stroke="#d9d9d9" stroke-width="1"/><line x1="1451.5" y1="829.5" x2="1451.5" y2="922.5" stroke="#d9d9d9" stroke-width="1"/><line x1="1495.5" y1="829.5" x2="1495.5" y2="922.5" stroke="#d9d9d9" stroke-width="1"/><line x1="1540.5" y1="829.5" x2="1540.5" y2="922.5" stroke="#d9d9d9" stroke-width="1"/><polygon points="1183.3,871.5 1183.3,860.4 1185.8,858.75 1187.9,850.8 1190,850 1192.1,854.2 1195.4,851.7 1197.9,852.9 1199.6,860.4 1201.7,862.5 1204.6,875 1209.2,882.9 1211.7,880.8 1213.75,879.6 1217.5,870.4 1221.4,885.8 1223.75,874.2 1226.7,870 1230,867.1 1232.1,865.8 1233.3,855.4 1236.25,862.5 1237.5,872.1 1239.2,872.9 1242.1,872.9 1243.3,862.5 1245.4,857.9 1247.5,859.6 1250,860.8 1252.9,842.9 1253.6,839.5 1256.4,832 1258.6,831 1261.6,833.5 1263.1,839.5 1264.2,842.9 1266.7,851.7 1270.4,858.3 1272.5,862.9 1275.4,859.2 1277.9,861.25 1279.6,870.4 1283.3,881.7 1287.1,873.75 1291.25,880.8 1293.3,882.5 1295,888.75 1298.75,885 1302.1,882.9 1305.8,880.8 1307.9,877.5 1309.2,870.4 1311.25,869.6 1315.4,883.3 1320,867.5 1323.75,864.6 1325.4,900 1326.2,907.5 1327.8,907.5 1328.3,900 1332.1,878.3 1335,865.8 1339.2,875 1342.9,881.7 1347.5,877.9 1348.75,890.8 1352.9,878.3 1357.5,885.8 1360.8,860.4 1362.9,860 1365,871.7 1367.1,874.2 1370.8,887.1 1373.3,885 1375.4,884.6 1379.2,879.6 1382.5,867.1 1386.25,870.8 1388.75,878.75 1391.25,881.25 1392.9,885 1395.4,886.25 1397.9,875 1400,872.5 1402.9,875.8 1405.4,877.5 1407.9,884.2 1410.8,898.75 1414.2,888.3 1417.1,876.7 1419.2,875.8 1420.8,870.4 1423.3,865 1425.8,856.25 1428.3,850.8 1430.8,850.8 1432.5,860 1435,860 1438.75,863.3 1442.5,872.1 1444.2,867.9 1448.3,862.9 1450.8,862.9 1452.9,865.8 1454.2,874.2 1456.7,877.1 1459.6,874.6 1462.5,870 1464.6,864.2 1466.7,850 1468.3,845 1470.8,851.7 1474.2,866.25 1476.7,866.7 1478.75,864.2 1481.25,870.4 1482.5,888.3 1484.6,895.8 1488.3,886.25 1492.5,885.4 1495.4,873.3 1502.5,849.2 1505,854.2 1506.7,891.7 1507.9,866.7 1508.3,864.2 1511.7,867.9 1514.6,867.9 1517.5,870.8 1519.2,875 1522.5,894.2 1524.6,881.7 1528.3,897.5 1532.5,883.75 1536.7,887.5 1539.6,868.3 1539.6,871.5" fill="rgba(47,74,159,0.29)" stroke="none"/><polygon points="1253.2,841.7 1253.6,839.5 1256.4,832 1258.6,831 1261.6,833.5 1263.1,839.5 1263.6,841.7" fill="#fbeec4"/><rect x="1183.5" y="870.4" width="356.5" height="1.8" fill="#111"/><line x1="1183.5" y1="842" x2="1540.0" y2="842" stroke="#dedede" stroke-width="2.2"/><line x1="1184.5" y1="842" x2="1540.0" y2="842" stroke="#262626" stroke-width="2" stroke-dasharray="5 4.8"/><line x1="1183.5" y1="901" x2="1540.0" y2="901" stroke="#dedede" stroke-width="2.2"/><line x1="1184.5" y1="901" x2="1540.0" y2="901" stroke="#262626" stroke-width="2" stroke-dasharray="5 4.8"/><polyline points="1183.3,860.4 1185.8,858.75 1187.9,850.8 1190,850 1192.1,854.2 1195.4,851.7 1197.9,852.9 1199.6,860.4 1201.7,862.5 1204.6,875 1209.2,882.9 1211.7,880.8 1213.75,879.6 1217.5,870.4 1221.4,885.8 1223.75,874.2 1226.7,870 1230,867.1 1232.1,865.8 1233.3,855.4 1236.25,862.5 1237.5,872.1 1239.2,872.9 1242.1,872.9 1243.3,862.5 1245.4,857.9 1247.5,859.6 1250,860.8 1252.9,842.9 1253.6,839.5 1256.4,832 1258.6,831 1261.6,833.5 1263.1,839.5 1264.2,842.9 1266.7,851.7 1270.4,858.3 1272.5,862.9 1275.4,859.2 1277.9,861.25 1279.6,870.4 1283.3,881.7 1287.1,873.75 1291.25,880.8 1293.3,882.5 1295,888.75 1298.75,885 1302.1,882.9 1305.8,880.8 1307.9,877.5 1309.2,870.4 1311.25,869.6 1315.4,883.3 1320,867.5 1323.75,864.6 1325.4,900 1326.2,907.5 1327.8,907.5 1328.3,900 1332.1,878.3 1335,865.8 1339.2,875 1342.9,881.7 1347.5,877.9 1348.75,890.8 1352.9,878.3 1357.5,885.8 1360.8,860.4 1362.9,860 1365,871.7 1367.1,874.2 1370.8,887.1 1373.3,885 1375.4,884.6 1379.2,879.6 1382.5,867.1 1386.25,870.8 1388.75,878.75 1391.25,881.25 1392.9,885 1395.4,886.25 1397.9,875 1400,872.5 1402.9,875.8 1405.4,877.5 1407.9,884.2 1410.8,898.75 1414.2,888.3 1417.1,876.7 1419.2,875.8 1420.8,870.4 1423.3,865 1425.8,856.25 1428.3,850.8 1430.8,850.8 1432.5,860 1435,860 1438.75,863.3 1442.5,872.1 1444.2,867.9 1448.3,862.9 1450.8,862.9 1452.9,865.8 1454.2,874.2 1456.7,877.1 1459.6,874.6 1462.5,870 1464.6,864.2 1466.7,850 1468.3,845 1470.8,851.7 1474.2,866.25 1476.7,866.7 1478.75,864.2 1481.25,870.4 1482.5,888.3 1484.6,895.8 1488.3,886.25 1492.5,885.4 1495.4,873.3 1502.5,849.2 1505,854.2 1506.7,891.7 1507.9,866.7 1508.3,864.2 1511.7,867.9 1514.6,867.9 1517.5,870.8 1519.2,875 1522.5,894.2 1524.6,881.7 1528.3,897.5 1532.5,883.75 1536.7,887.5 1539.6,868.3" fill="none" stroke="#2f4a9f" stroke-width="2.6" stroke-linejoin="round"/><polyline points="1253.2,841.7 1253.6,839.5 1256.4,832 1258.6,831 1261.6,833.5 1263.1,839.5 1263.6,841.7" fill="none" stroke="#f2c037" stroke-width="2.6" stroke-linejoin="round"/><polyline points="1325.6,901.5 1326.2,907.5 1327.8,907.5 1328.1,901.5" fill="none" stroke="#f2c037" stroke-width="2.6" stroke-linejoin="round"/></svg>
<div class="t" style="left:683.50px;width:1000px;text-align:center;top:926.69px;font-size:16.9px;line-height:16.9px;font-weight:700;color:#26262a;letter-spacing:0px;">0°</div>
<div class="t" style="left:772.62px;width:1000px;text-align:center;top:926.69px;font-size:16.9px;line-height:16.9px;font-weight:700;color:#26262a;letter-spacing:0px;">90°</div>
<div class="t" style="left:861.75px;width:1000px;text-align:center;top:926.69px;font-size:16.9px;line-height:16.9px;font-weight:700;color:#26262a;letter-spacing:0px;">180°</div>
<div class="t" style="left:950.88px;width:1000px;text-align:center;top:926.69px;font-size:16.9px;line-height:16.9px;font-weight:700;color:#26262a;letter-spacing:0px;">270°</div>
<div class="t" style="left:1040.00px;width:1000px;text-align:center;top:926.69px;font-size:16.9px;line-height:16.9px;font-weight:700;color:#26262a;letter-spacing:0px;">360°</div>
</body></html>
